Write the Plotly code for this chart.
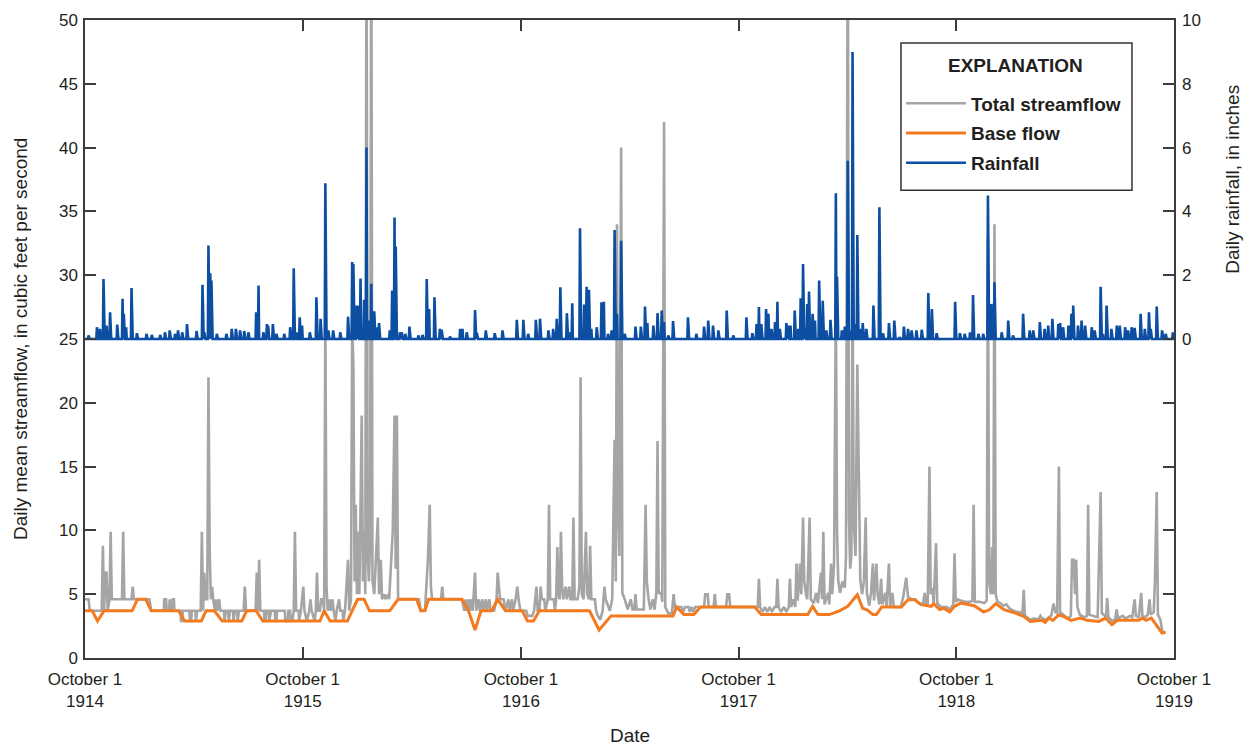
import numpy as np
import pandas as pd
import plotly.graph_objects as go

START = "1914-10-01"
END = "1919-10-01"

# Total streamflow (cfs): day of record (days after Oct 1, 1914) and value
flow_day = [0, 6, 8, 28, 30, 32, 34, 36, 38, 41, 43, 45, 62, 64, 66, 78, 80, 82, 108, 111,
            132, 133, 136, 137, 141, 142, 143, 146, 147, 149, 150, 160, 161, 163, 164, 175, 176, 178, 179, 185,
            186, 188, 194, 196, 198, 200, 202, 205, 207, 209, 211, 213, 215, 218, 220, 222, 225, 227, 233, 234,
            236, 240, 241, 243, 248, 249, 251, 255, 256, 258, 266, 268, 270, 286, 288, 290, 292, 294, 300, 301,
            303, 304, 308, 309, 312, 318, 319, 321, 322, 335, 336, 340, 341, 344, 345, 348, 350, 352, 354, 358,
            359, 362, 366, 368, 372, 376, 378, 380, 385, 387, 389, 391, 394, 396, 399, 401, 403, 405, 407, 410,
            412, 415, 417, 420, 422, 426, 428, 432, 433, 436, 441, 443, 446, 448, 450, 452, 454, 456, 458, 460,
            464, 466, 468, 470, 472, 474, 476, 478, 480, 482, 485, 488, 491, 493, 496, 498, 502, 504, 508, 510,
            516, 519, 521, 523, 525, 560, 563, 570, 573, 575, 578, 580, 582, 597, 599, 601, 632, 636, 638, 640,
            643, 645, 648, 650, 654, 656, 660, 662, 666, 668, 672, 674, 678, 680, 686, 690, 692, 694, 696, 702,
            705, 710, 712, 716, 718, 722, 725, 727, 730, 740, 742, 750, 753, 757, 759, 762, 764, 766, 770, 772,
            776, 778, 780, 786, 788, 790, 792, 794, 796, 798, 800, 802, 806, 808, 812, 814, 817, 819, 821, 826,
            829, 831, 833, 836, 840, 842, 845, 847, 849, 855, 857, 860, 864, 868, 871, 873, 880, 884, 888, 890,
            892, 894, 896, 899, 901, 905, 910, 915, 918, 921, 923, 925, 937, 940, 942, 945, 948, 952, 955, 958,
            960, 962, 966, 968, 971, 973, 978, 984, 987, 989, 1000, 1003, 1006, 1012, 1014, 1017, 1020, 1023, 1038, 1040,
            1044, 1046, 1054, 1056, 1058, 1075, 1077, 1080, 1082, 1128, 1130, 1132, 1136, 1140, 1144, 1148, 1152, 1156, 1159, 1161,
            1163, 1167, 1172, 1176, 1180, 1182, 1184, 1188, 1191, 1193, 1195, 1199, 1201, 1204, 1206, 1209, 1211, 1215, 1217, 1222,
            1226, 1229, 1234, 1236, 1238, 1240, 1246, 1248, 1251, 1253, 1256, 1259, 1261, 1263, 1266, 1270, 1274, 1276, 1279, 1281,
            1283, 1285, 1287, 1289, 1292, 1295, 1298, 1300, 1303, 1306, 1309, 1311, 1315, 1318, 1321, 1323, 1327, 1329, 1332, 1335,
            1337, 1342, 1344, 1348, 1350, 1354, 1356, 1368, 1372, 1377, 1380, 1386, 1392, 1398, 1405, 1408, 1410, 1413, 1416, 1418,
            1421, 1423, 1427, 1429, 1435, 1445, 1450, 1456, 1458, 1460, 1464, 1468, 1475, 1485, 1488, 1490, 1492, 1500, 1508, 1512,
            1514, 1516, 1519, 1521, 1523, 1525, 1527, 1530, 1535, 1540, 1545, 1550, 1557, 1562, 1567, 1572, 1574, 1576, 1585, 1592,
            1598, 1602, 1605, 1612, 1616, 1620, 1624, 1627, 1630, 1633, 1635, 1640, 1648, 1653, 1655, 1658, 1660, 1662, 1664, 1668,
            1675, 1680, 1682, 1684, 1690, 1698, 1703, 1705, 1708, 1712, 1714, 1716, 1722, 1727, 1730, 1732, 1740, 1745, 1752, 1756,
            1760, 1762, 1767, 1771, 1773, 1778, 1782, 1785, 1787, 1792, 1794, 1797, 1799, 1803, 1807, 1810]
flow_cfs = [4.6, 4.6, 3.7, 3.7, 8.8, 3.7, 6.7, 6.7, 3.7, 4.6, 9.9, 4.6, 4.6, 9.9, 4.6, 4.6, 5.6, 4.6, 4.6, 3.7,
            3.7, 4.6, 4.6, 3.7, 3.7, 4.6, 3.7, 3.7, 4.6, 4.6, 3.7, 3.7, 2.9, 2.9, 3.7, 3.7, 2.9, 2.9, 3.7, 3.7,
            2.9, 3.7, 3.7, 9.9, 3.7, 6.7, 4.6, 4.6, 22.0, 8.8, 4.6, 5.6, 4.6, 3.7, 4.6, 3.7, 4.6, 3.7, 3.7, 2.9,
            3.7, 3.7, 2.9, 3.7, 3.7, 2.9, 3.7, 3.7, 2.9, 3.7, 3.7, 5.6, 3.7, 3.7, 6.7, 3.7, 7.7, 3.7, 3.7, 2.9,
            2.9, 3.7, 3.7, 2.9, 3.7, 3.7, 2.9, 2.9, 3.7, 3.7, 2.9, 2.9, 3.7, 3.7, 2.9, 2.9, 3.7, 9.9, 3.7, 3.7,
            2.9, 3.7, 5.6, 3.7, 2.9, 3.7, 4.6, 3.7, 2.9, 3.7, 6.7, 3.7, 3.7, 4.6, 4.6, 3.7, 27.0, 5.6, 3.7, 4.6,
            3.7, 4.6, 3.7, 2.9, 3.7, 4.6, 3.7, 3.7, 2.9, 3.7, 7.7, 3.7, 4.6, 26.0, 23.0, 6.0, 12.0, 5.0, 9.9, 5.0,
            19.0, 6.0, 9.9, 5.0, 60.0, 8.0, 6.0, 9.0, 60.0, 6.1, 5.0, 7.7, 11.0, 5.0, 7.7, 4.6, 5.0, 4.6, 5.0, 4.6,
            9.9, 19.0, 7.0, 19.0, 4.6, 4.6, 3.7, 3.7, 6.7, 7.7, 12.0, 5.6, 4.6, 4.6, 5.6, 4.6, 4.6, 3.7, 4.6, 3.7,
            4.6, 3.7, 4.6, 3.7, 6.7, 3.7, 4.6, 3.7, 4.6, 3.7, 4.6, 3.7, 4.6, 3.7, 3.7, 4.6, 6.7, 5.6, 4.6, 4.6,
            3.7, 4.6, 3.7, 4.6, 3.7, 4.6, 5.6, 4.6, 3.7, 3.7, 3.3, 3.3, 3.7, 5.6, 3.7, 3.7, 5.6, 4.6, 4.6, 3.7,
            4.6, 12.0, 4.6, 4.6, 3.7, 4.6, 8.7, 5.0, 4.6, 9.9, 5.6, 4.6, 5.6, 4.6, 5.6, 4.6, 4.6, 11.0, 4.6, 4.6,
            5.6, 22.0, 5.0, 4.6, 9.9, 5.0, 4.6, 8.8, 4.6, 4.6, 3.7, 3.3, 3.0, 3.7, 5.6, 4.6, 3.7, 4.6, 17.1, 6.0,
            34.0, 12.0, 8.0, 40.0, 5.1, 4.6, 3.8, 4.6, 3.8, 3.8, 5.0, 3.8, 3.8, 12.0, 6.0, 4.6, 3.8, 4.6, 3.8, 5.1,
            17.0, 5.1, 5.1, 4.4, 42.0, 4.0, 3.5, 3.5, 5.0, 4.0, 4.0, 3.6, 4.0, 4.0, 3.6, 4.0, 3.6, 4.0, 4.0, 5.0,
            5.0, 4.0, 4.0, 5.0, 4.0, 4.0, 5.0, 5.0, 4.0, 4.0, 6.2, 4.0, 3.6, 4.0, 3.6, 4.0, 3.6, 4.0, 4.0, 6.2,
            4.0, 3.6, 4.0, 3.6, 4.0, 6.2, 4.0, 4.6, 4.0, 7.4, 4.5, 7.4, 5.0, 11.0, 6.0, 5.0, 4.6, 11.0, 4.6, 4.3,
            5.1, 4.3, 6.7, 4.6, 9.9, 4.2, 5.1, 4.2, 7.4, 5.0, 7.4, 28.0, 9.9, 6.1, 5.1, 6.0, 5.5, 8.0, 60.0, 11.0,
            7.0, 8.0, 30.0, 10.7, 8.0, 23.0, 14.0, 6.1, 5.0, 6.0, 11.0, 5.1, 4.1, 5.1, 7.4, 4.5, 7.4, 5.0, 4.2, 6.2,
            4.2, 5.1, 4.0, 7.4, 4.1, 5.1, 4.0, 4.0, 4.8, 6.3, 4.8, 4.6, 4.6, 4.3, 4.2, 5.1, 4.2, 4.2, 15.0, 5.0,
            5.5, 4.2, 9.0, 4.3, 4.0, 4.0, 3.8, 4.2, 8.2, 4.4, 4.6, 4.5, 4.4, 4.4, 4.5, 12.0, 4.4, 4.4, 4.3, 4.5,
            33.0, 6.0, 5.0, 8.7, 5.0, 34.0, 5.0, 4.4, 4.3, 4.1, 4.2, 3.9, 3.7, 3.6, 3.6, 3.5, 5.35, 3.3, 3.0, 3.1,
            3.0, 3.3, 3.1, 3.0, 3.2, 3.3, 4.26, 3.6, 3.5, 15.0, 3.6, 3.4, 3.1, 3.3, 7.7, 7.7, 5.0, 7.7, 4.0, 3.4,
            3.2, 3.3, 12.0, 3.4, 3.3, 3.2, 13.0, 3.5, 3.4, 3.2, 4.7, 3.2, 2.9, 3.0, 3.8, 3.1, 3.3, 3.1, 3.3, 3.2,
            4.6, 3.3, 3.2, 5.1, 3.3, 3.2, 3.4, 4.6, 3.4, 3.6, 6.0, 13.0, 3.4, 3.0, 2.0, 2.0]

# Base flow (cfs)
base_day = [0, 12, 21, 32, 79, 88, 102, 111, 157, 167, 195, 203, 217, 230, 263, 271, 287, 298, 394, 401,
            411, 440, 457, 468, 477, 511, 525, 556, 563, 570, 576, 632, 643, 654, 664, 682, 692, 705, 733, 742,
            752, 762, 846, 862, 882, 986, 992, 1004, 1021, 1032, 1123, 1134, 1212, 1220, 1229, 1248, 1265, 1279, 1295, 1304,
            1312, 1321, 1327, 1336, 1369, 1380, 1391, 1402, 1419, 1423, 1433, 1440, 1450, 1458, 1468, 1491, 1507, 1517, 1527, 1541,
            1560, 1574, 1585, 1605, 1610, 1616, 1623, 1633, 1643, 1653, 1669, 1680, 1700, 1711, 1722, 1731, 1767, 1773, 1779, 1788,
            1806, 1812]
base_cfs = [3.7, 3.7, 2.9, 3.7, 3.7, 4.6, 4.6, 3.7, 3.7, 2.9, 2.9, 3.7, 3.7, 2.9, 2.9, 3.7, 3.7, 2.9, 2.9, 3.7,
            2.9, 2.9, 4.6, 4.6, 3.7, 3.7, 4.6, 4.6, 3.7, 3.7, 4.6, 4.6, 3.7, 2.2, 3.7, 3.7, 4.6, 3.7, 3.7, 2.9,
            2.9, 3.7, 3.7, 2.2, 3.3, 3.3, 4.0, 3.4, 3.4, 4.0, 4.0, 3.4, 3.4, 4.05, 3.4, 3.4, 3.7, 4.05, 4.96, 3.9,
            3.75, 3.4, 3.4, 4.0, 4.0, 4.57, 4.57, 4.18, 4.05, 4.26, 3.79, 3.9, 3.6, 4.05, 4.3, 4.1, 3.6, 3.8, 4.26, 3.79,
            3.52, 3.26, 2.87, 2.95, 2.79, 3.13, 2.95, 3.39, 3.21, 2.95, 3.13, 2.95, 2.87, 3.13, 2.61, 2.95, 2.95, 3.13, 2.95, 3.13,
            1.96, 2.01]

# Daily rainfall (inches): days with measurable rain; other days had none
rain_day = [6, 20, 25, 31, 36, 42, 54, 63, 65, 69, 78, 87, 103, 112, 126, 134, 142, 151, 156, 163,
            171, 187, 197, 200, 207, 210, 212, 221, 237, 246, 253, 260, 267, 274, 287, 291, 299, 305, 307, 315,
            321, 334, 344, 350, 355, 360, 364, 377, 388, 395, 403, 408, 416, 428, 441, 448, 450, 455, 458, 462,
            468, 472, 476, 480, 485, 489, 493, 511, 515, 519, 521, 528, 531, 537, 544, 559, 566, 573, 577, 586,
            595, 598, 612, 629, 633, 640, 654, 657, 672, 687, 700, 724, 735, 743, 756, 763, 777, 785, 791, 797,
            808, 813, 817, 830, 837, 841, 845, 849, 858, 866, 870, 877, 883, 888, 892, 899, 905, 923, 932, 939,
            943, 953, 960, 967, 971, 978, 986, 1011, 1025, 1038, 1045, 1053, 1062, 1076, 1087, 1109, 1119, 1126, 1130, 1134,
            1142, 1146, 1151, 1157, 1161, 1165, 1176, 1179, 1183, 1190, 1196, 1200, 1204, 1207, 1211, 1214, 1220, 1224, 1231, 1237,
            1243, 1250, 1259, 1261, 1269, 1274, 1279, 1283, 1287, 1291, 1295, 1299, 1304, 1310, 1322, 1332, 1338, 1348, 1357, 1366,
            1373, 1380, 1386, 1394, 1403, 1414, 1420, 1428, 1459, 1467, 1475, 1484, 1489, 1498, 1506, 1514, 1520, 1525, 1537, 1548,
            1556, 1573, 1584, 1590, 1601, 1609, 1615, 1622, 1632, 1635, 1640, 1649, 1654, 1657, 1665, 1671, 1677, 1688, 1693, 1703,
            1707, 1713, 1721, 1730, 1735, 1744, 1749, 1755, 1760, 1770, 1777, 1784, 1787, 1797, 1806, 1812, 1824]
rain_in = [0.11, 0.37, 0.32, 1.88, 0.42, 0.84, 0.45, 1.26, 0.79, 0.37, 1.6, 0.18, 0.16, 0.13, 0.13, 0.21, 0.27, 0.16, 0.27, 0.21,
           0.47, 0.25, 1.7, 0.21, 2.93, 2.06, 1.83, 0.16, 0.16, 0.32, 0.32, 0.27, 0.25, 0.21, 0.84, 1.68, 0.21, 0.47, 0.42, 0.47,
           0.16, 0.16, 0.37, 2.22, 0.21, 0.68, 0.42, 0.21, 1.31, 0.63, 4.88, 0.27, 0.27, 0.21, 0.7, 2.41, 2.35, 1.05, 1.05, 1.9,
           1.23, 6.0, 0.58, 1.73, 0.87, 0.37, 0.5, 0.27, 1.52, 3.81, 2.9, 0.21, 0.21, 0.16, 0.39, 0.11, 0.13, 1.88, 0.94, 1.31,
           0.32, 0.29, 0.08, 0.32, 0.32, 0.21, 0.91, 0.2, 0.27, 0.18, 0.27, 0.6, 0.6, 0.16, 0.6, 0.63, 0.27, 0.32, 0.63, 1.62,
           0.81, 0.21, 1.12, 3.47, 1.08, 1.64, 1.54, 0.32, 0.37, 1.15, 1.17, 0.16, 0.27, 3.42, 0.79, 3.08, 0.16, 0.39, 0.39, 1.02,
           0.5, 0.42, 0.81, 0.89, 0.53, 0.11, 0.56, 0.68, 0.16, 0.39, 0.58, 0.42, 0.27, 0.89, 0.11, 0.68, 0.18, 0.47, 1.0, 0.47,
           0.94, 0.79, 0.32, 0.53, 1.17, 0.32, 0.5, 0.42, 0.42, 0.89, 0.32, 1.28, 2.35, 0.32, 1.1, 1.49, 0.79, 0.58, 1.83, 1.2,
           0.27, 0.6, 4.57, 1.96, 0.27, 0.39, 5.59, 0.27, 9.0, 0.47, 3.26, 0.32, 0.5, 0.32, 1.05, 4.13, 0.18, 0.5, 0.58, 0.06,
           0.39, 0.32, 0.27, 0.27, 0.29, 1.44, 0.94, 0.18, 1.17, 0.18, 0.16, 0.21, 1.38, 0.16, 0.16, 4.5, 1.1, 1.78, 0.21, 0.58,
           0.11, 0.79, 0.27, 0.27, 0.53, 0.32, 0.42, 0.63, 0.47, 0.5, 0.37, 0.42, 0.79, 1.05, 0.42, 0.58, 0.42, 0.37, 0.27, 1.64,
           0.16, 1.05, 0.32, 0.42, 0.42, 0.37, 0.27, 0.37, 0.35, 0.79, 0.32, 0.84, 0.32, 1.02, 0.27, 0.16, 0.21]

year_ticks = ["1914-10-01", "1915-10-01", "1916-10-01", "1917-10-01", "1918-10-01", "1919-10-01"]
year_labels = ["October 1<br>1914", "October 1<br>1915", "October 1<br>1916",
               "October 1<br>1917", "October 1<br>1918", "October 1<br>1919"]

start = pd.Timestamp(START)
n_days = (pd.Timestamp(END) - start).days
rain = np.zeros(n_days)
rain[np.array(rain_day)] = rain_in
rain_dates = start + pd.to_timedelta(np.arange(n_days), unit="D")
flow_dates = start + pd.to_timedelta(flow_day, unit="D")
base_dates = start + pd.to_timedelta(base_day, unit="D")

FONT = "Liberation Sans, Arial, sans-serif"
TXT = "#231f20"
AX = "#3c3c3c"

fig = go.Figure()
fig.add_trace(go.Scatter(x=flow_dates, y=flow_cfs, mode="lines", name="Total streamflow",
                         legendgroup="a", line=dict(color="#a5a5a5", width=2.6), yaxis="y"))
fig.add_trace(go.Scatter(x=base_dates, y=base_cfs, mode="lines", name="Base flow",
                         legendgroup="b", line=dict(color="#f47a20", width=3), yaxis="y"))
fig.add_trace(go.Scatter(x=rain_dates, y=rain, mode="lines", name="Rainfall",
                         legendgroup="c", line=dict(color="#0b4ea2", width=2.6), yaxis="y2"))

fig.update_layout(
    width=1251, height=746,
    margin=dict(l=85, r=77, t=20, b=88),
    paper_bgcolor="white", plot_bgcolor="white",
    font=dict(family=FONT, size=17, color=TXT),
    legend=dict(x=0.7493, y=0.899, xanchor="left", yanchor="top",
                borderwidth=0, bgcolor="rgba(0,0,0,0)",
                font=dict(family=FONT, size=19, color=TXT, weight="bold"),
                tracegroupgap=2, itemwidth=60),
    shapes=[dict(type="rect", xref="paper", yref="paper", x0=0.7493, x1=0.9614, y0=0.7333, y1=0.964,
                 line=dict(color="#333333", width=1.5), fillcolor="white", layer="above")],
    xaxis=dict(type="date", range=[START, END], tickvals=year_ticks, ticktext=year_labels,
               ticks="inside", ticklen=11, tickwidth=1.5, tickcolor=AX,
               showline=True, linecolor=AX, linewidth=1.5, mirror="ticks",
               showgrid=False, zeroline=False, tickfont=dict(size=17), ticklabelstandoff=5),
    yaxis=dict(range=[0, 50], tick0=0, dtick=5, ticks="inside", ticklen=11, tickwidth=1.5,
               tickcolor=AX, showline=True, linecolor=AX, linewidth=1.5, mirror="ticks",
               showgrid=False, zeroline=False, tickfont=dict(size=17), ticklabelstandoff=2),
    yaxis2=dict(overlaying="y", side="right", range=[-10, 10], tickvals=[0, 2, 4, 6, 8, 10],
                ticks="inside", ticklen=11, tickwidth=1.5, tickcolor=AX, showline=False,
                showgrid=False, zeroline=False, tickfont=dict(size=17), ticklabelstandoff=7),
    annotations=[
        dict(text="EXPLANATION", xref="paper", yref="paper", x=0.8549, y=0.929,
             showarrow=False, xanchor="center", yanchor="middle",
             font=dict(size=19, weight="bold")),
        dict(text="Daily mean streamflow, in cubic feet per second", xref="paper", yref="paper",
             x=-0.0597, y=0.5, textangle=-90, showarrow=False, xanchor="center", yanchor="middle",
             font=dict(size=19)),
        dict(text="Daily rainfall, in inches", xref="paper", yref="paper",
             x=1.053, y=0.7506, textangle=-90, showarrow=False, xanchor="center", yanchor="middle",
             font=dict(size=19)),
        dict(text="Date", xref="paper", yref="paper", x=0.5, y=-0.121, showarrow=False,
             xanchor="center", yanchor="middle", font=dict(size=19)),
    ],
)

fig.write_html("out.html")
